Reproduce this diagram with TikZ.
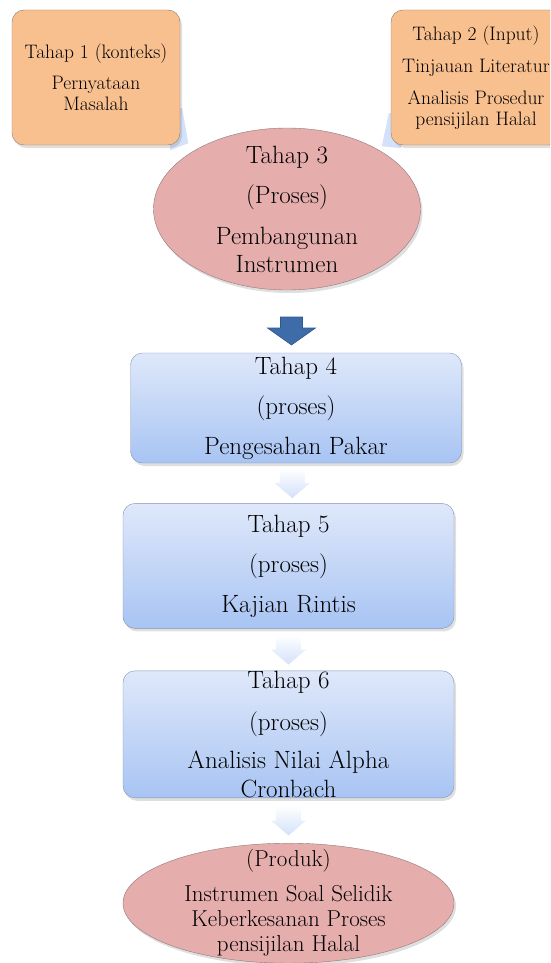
\documentclass[tikz,border=0pt]{standalone}
\usepackage{tikz}
\usetikzlibrary{positioning, calc, shapes.geometric, shadows, backgrounds}

\definecolor{inputfill}{HTML}{F9C08F}
\definecolor{inputline}{HTML}{8C7B70}
\definecolor{ellfill}{HTML}{E6ADAD}
\definecolor{ellline}{HTML}{907878}
\definecolor{proctop}{HTML}{DFE8FA}
\definecolor{procbot}{HTML}{A8C4F3}
\definecolor{procline}{HTML}{8193B4}
\definecolor{arrlight}{HTML}{D3E1FA}
\definecolor{arrdark}{HTML}{3E6CA9}
\definecolor{arrdarkline}{HTML}{2E5890}

\tikzset{
  softshadow/.style={drop shadow={shadow xshift=2pt, shadow yshift=-3pt, opacity=0.25}},
  inputbox/.style={draw=inputline, fill=inputfill, rounded corners=12pt, softshadow,
    minimum width=168pt, minimum height=135pt, inner sep=1pt, align=center,
    font=\fontsize{19.5}{21}\selectfont},
  stageell/.style={ellipse, draw=ellline, fill=ellfill, softshadow, inner sep=0pt},
  labeltext/.style={align=center, inner sep=0pt},
  procbox/.style={draw=procline, top color=proctop, bottom color=procbot, rounded corners=12pt,
    softshadow, minimum width=331pt, inner sep=0pt},
  lightarr/.style={top color=white, bottom color=arrlight},
  darkarr/.style={fill=arrdark, draw=arrdarkline, line width=0.6pt},
  sidetab/.style={fill=arrlight},
}

% block arrow between two stacked nodes
\newcommand{\flowarrow}[3][lightarr]{%
  \coordinate (mid) at ($(#2.south)!0.5!(#3.north)$);
  \path[#1] ($(mid)+(-12.5,15)$) -- ($(mid)+(12.5,15)$) -- ($(mid)+(12.5,0)$)
    -- ($(mid)+(17.5,0)$) -- ($(mid)+(0,-15)$) -- ($(mid)+(-17.5,0)$)
    -- ($(mid)+(-12.5,0)$) -- cycle;}

\begin{document}
\begin{tikzpicture}[x=1pt, y=1pt]
  \clip (0,0) rectangle (550,-963);

  % input side
  \node[inputbox] (b1) at (96,-77.5) {Tahap 1 (konteks)\\[10pt]Pernyataan\\Masalah};
  \node[inputbox, minimum width=170pt] (b2) at (476,-77.5)
    {Tahap 2 (Input)\\[11pt]Tinjauan Literatur\\[11pt]Analisis Prosedur\\pensijilan Halal};

  % tabs of the hidden arrows into stage 3
  \begin{pgfonlayer}{background}
    \fill[sidetab] ($(b1.south east)+(-10,37)$) -- ($(b1.south east)+(2,37)$)
      -- ($(b1.south east)+(8,2)$) -- ($(b1.south east)+(-10,-5)$) -- cycle;
    \fill[sidetab] ($(b2.south west)+(-2,32)$) -- ($(b2.south west)+(10,32)$)
      -- ($(b2.south west)+(10,-3)$) -- ($(b2.south west)+(-9,-1)$) -- cycle;
  \end{pgfonlayer}

  \node[stageell, minimum width=267pt, minimum height=162pt,
    label={[labeltext, font=\fontsize{25}{28}\selectfont]center:Tahap 3\\[12pt](Proses)\\[13pt]Pembangunan\\Instrumen}]
    (e3) at (287,-209) {};

  % process stages
  \node[procbox, minimum height=110pt,
    label={[labeltext, font=\fontsize{25}{28}\selectfont]center:Tahap 4\\[12pt](proses)\\[12pt]Pengesahan Pakar}]
    (b4) at (296,-408) {};
  \node[procbox, minimum height=125pt, below=40pt of b4, xshift=-7.5pt,
    label={[labeltext, font=\fontsize{25}{28}\selectfont]center:Tahap 5\\[12pt](proses)\\[12pt]Kajian Rintis}]
    (b5) {};
  \node[procbox, minimum height=127pt, below=42pt of b5,
    label={[labeltext, font=\fontsize{25}{28}\selectfont]center:Tahap 6\\[14pt](proses)\\[10pt]Analisis Nilai Alpha\\[1pt]Cronbach}]
    (b6) {};
  \node[stageell, minimum width=331pt, minimum height=120pt, below=45pt of b6,
    label={[labeltext, font=\fontsize{23}{25}\selectfont]center:(Produk)\\[10pt]Instrumen Soal Selidik\\Keberkesanan Proses\\pensijilan Halal}]
    (e7) {};

  % arrows
  \coordinate (dmid) at ($(e3.south)!0.5!(b4.north)$);
  \path[darkarr] ($(dmid)+(-11,4.5)$) -- ($(dmid)+(11,4.5)$) -- ($(dmid)+(11,-6.5)$)
    -- ($(dmid)+(24,-6.5)$) -- ($(dmid)+(0,-23.5)$) -- ($(dmid)+(-24,-6.5)$)
    -- ($(dmid)+(-11,-6.5)$) -- cycle;
  \flowarrow{b4}{b5}
  \flowarrow{b5}{b6}
  \flowarrow{b6}{e7}
\end{tikzpicture}
\end{document}
